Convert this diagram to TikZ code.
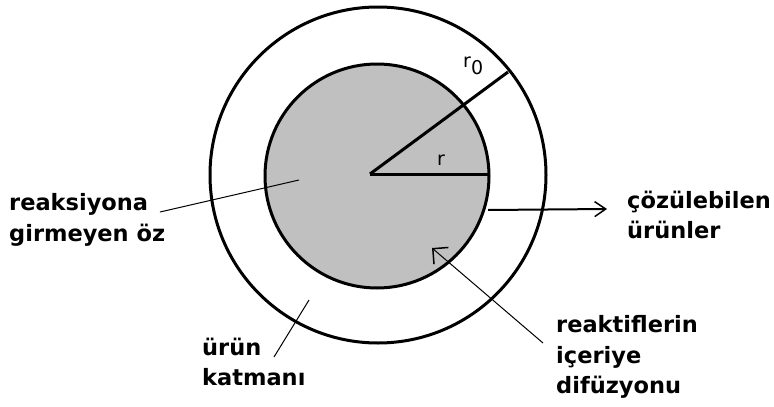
\documentclass[tikz,border=0pt]{standalone}
\usepackage{fontspec}
\setmainfont{DejaVu Sans}
\usetikzlibrary{arrows.meta}
\definecolor{coregray}{RGB}{192,192,192}
\begin{document}
\begin{tikzpicture}[x=1pt,y=-1pt,
  lbl/.style={font=\bfseries\fontsize{22.5}{30.5}\selectfont, align=left, inner sep=0pt, anchor=west},
  sym/.style={font=\fontsize{19}{22}\selectfont, inner sep=0pt},
  ring/.style={line width=3pt},
  radline/.style={line width=3pt},
  ptr/.style={line width=1pt},
  outarrow/.style={line width=2pt, -{Straight Barb[length=11pt,width=15pt,line width=1.5pt]}},
  inarrow/.style={line width=1pt, -{Straight Barb[length=11pt,width=22pt,line width=1.5pt]}},
]
\useasboundingbox (0,0) rectangle (774,407);
% circles
\coordinate (Cout) at (378,175);
\coordinate (Cin) at (377,176);
\coordinate (O) at (370,174);
\draw[ring] (Cout) circle[radius=168pt];
\draw[ring, fill=coregray] (Cin) circle[radius=112pt];
% radii
\coordinate (rEnd) at (489,174);
\coordinate (r0End) at (508,72);
\draw[radline] (O) -- (r0End);
\draw[radline] (O) -- (rEnd);
\node[sym] (rlbl) at (441,160) {r};
\node[sym, anchor=west] (r0lbl) at (463,66) {r\raisebox{-7pt}{0}};
% labels
\node[lbl] (reak) at (9,220) {reaksiyona\\girmeyen öz};
\node[lbl] (cozul) at (627,215) {çözülebilen\\ürünler};
\node[lbl] (urun) at (202,362) {ürün\\katmanı};
\node[lbl] (reakt) at (556,357) {reaktiflerin\\içeriye\\difüzyonu};
% pointers
\coordinate (p1a) at (160,212);
\coordinate (p1b) at (299,180);
\draw[ptr] (p1a) -- (p1b);
\coordinate (p2a) at (274,357);
\coordinate (p2b) at (309,300);
\draw[ptr] (p2a) -- (p2b);
\coordinate (a1s) at (488,210);
\coordinate (a1e) at (607,209);
\draw[outarrow] (a1s) -- (a1e);
\coordinate (a2s) at (543,343);
\coordinate (a2e) at (432,248);
\draw[inarrow] (a2s) -- (a2e);
\end{tikzpicture}
\end{document}
